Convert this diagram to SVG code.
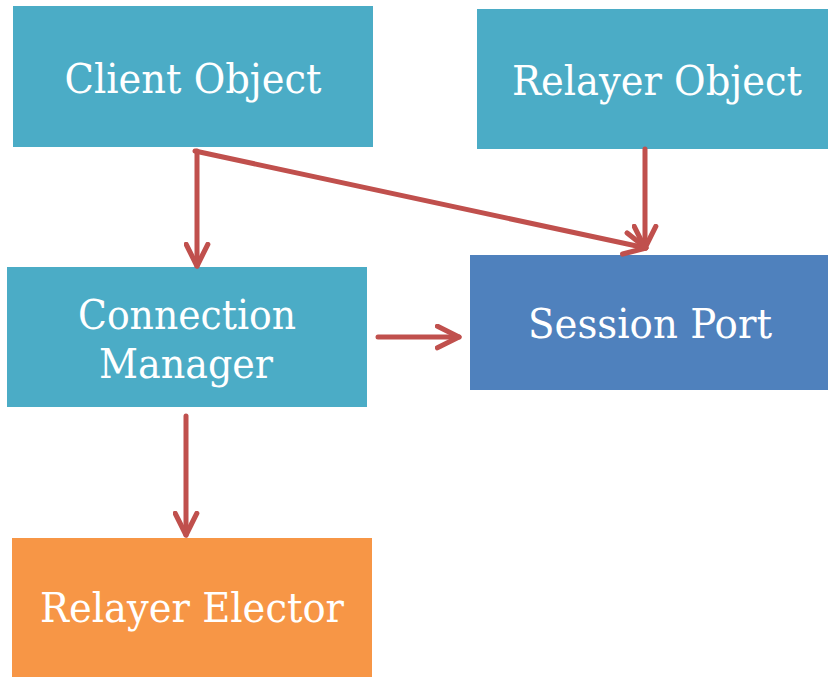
<svg xmlns="http://www.w3.org/2000/svg" width="828" height="677" viewBox="0 0 828 677">
  <style>
    .box { stroke: none; }
    .teal { fill: #4BACC6; }
    .blue { fill: #4F81BD; }
    .orange { fill: #F79646; }
    .label { font-family: "DejaVu Serif", "Liberation Serif", serif; font-size: 41px; fill: #FFFFFF; text-anchor: middle; }
    .link { stroke: #C0504D; stroke-width: 5; fill: none; stroke-linecap: round; stroke-linejoin: round; }
  </style>
  <defs>
    <marker id="arrow" viewBox="0 0 20 20" refX="18" refY="10" markerWidth="5.4" markerHeight="5.4" orient="auto" markerUnits="strokeWidth">
      <path d="M2,2 L18,10 L2,18" fill="none" stroke="#C0504D" stroke-width="3.8" stroke-linecap="round" stroke-linejoin="round"/>
    </marker>
  </defs>
  <rect width="828" height="677" fill="#FFFFFF"/>

  <g id="client-object">
    <rect class="box teal" x="13" y="6" width="360" height="141"/>
    <text class="label" x="193" y="93" textLength="257" lengthAdjust="spacingAndGlyphs">Client Object</text>
  </g>
  <g id="relayer-object">
    <rect class="box teal" x="477" y="9" width="351" height="140"/>
    <text class="label" x="657" y="95" textLength="290" lengthAdjust="spacingAndGlyphs">Relayer Object</text>
  </g>
  <g id="connection-manager">
    <rect class="box teal" x="7" y="267" width="360" height="140"/>
    <text class="label" x="187" y="329" textLength="218" lengthAdjust="spacingAndGlyphs">Connection</text>
    <text class="label" x="186" y="378" textLength="174" lengthAdjust="spacingAndGlyphs">Manager</text>
  </g>
  <g id="session-port">
    <rect class="box blue" x="470" y="255" width="358" height="135"/>
    <text class="label" x="650" y="338" textLength="244" lengthAdjust="spacingAndGlyphs">Session Port</text>
  </g>
  <g id="relayer-elector">
    <rect class="box orange" x="12" y="538" width="360" height="139"/>
    <text class="label" x="192" y="622" textLength="304" lengthAdjust="spacingAndGlyphs">Relayer Elector</text>
  </g>

  <g id="connectors">
    <path class="link" d="M197,151 L197,266" marker-end="url(#arrow)"/>
    <path class="link" d="M195,151 L646,248" marker-end="url(#arrow)"/>
    <path class="link" d="M645,149 L645,248" marker-end="url(#arrow)"/>
    <path class="link" d="M378,337 L459,337" marker-end="url(#arrow)"/>
    <path class="link" d="M186,416 L186,535" marker-end="url(#arrow)"/>
  </g>
</svg>
